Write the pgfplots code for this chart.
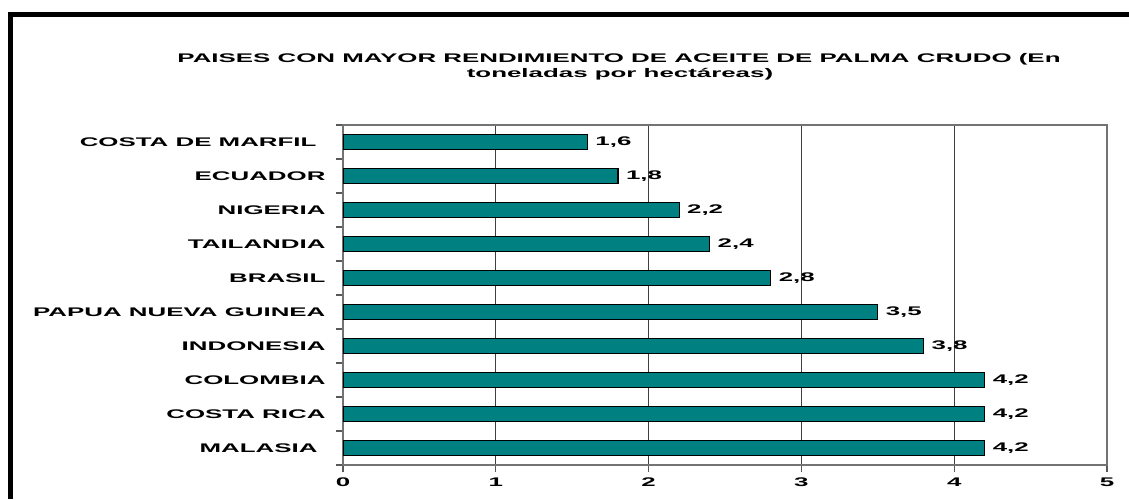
\documentclass[border=0pt]{standalone}
\usepackage{fontspec}
\setmainfont{Liberation Sans}[FakeStretch=2.07]
\usepackage{pgfplots}
\pgfplotsset{compat=1.18}
\definecolor{barteal}{HTML}{008080}
\newcommand{\lbl}{\fontsize{12.5}{15}\selectfont\bfseries}
\begin{document}
\begin{tikzpicture}
\useasboundingbox (0,0) rectangle (1129pt,499pt);
\fill[white] (0,0) rectangle (1129pt,499pt);
\draw[line width=5pt] (8pt,484.5pt) -- (1129pt,484.5pt);
\draw[line width=5pt] (10.5pt,487pt) -- (10.5pt,0pt);
\node[anchor=base, font=\lbl] at (619pt,436pt) {PAISES CON MAYOR RENDIMIENTO DE ACEITE DE PALMA CRUDO (En};
\node[anchor=base, font=\lbl] at (620pt,421pt) {toneladas por hectáreas)};
\begin{axis}[
 at={(343pt,34pt)}, anchor=south west,
 scale only axis, width=764pt, height=340pt,
 xbar, bar width=15.5pt,
 xmin=0, xmax=5, ymin=-0.5, ymax=9.5,
 xtick={0,...,5},
 ytick={-0.5,0.5,...,9.5},
 y tick label as interval,
 yticklabels={MALASIA\hspace*{8pt},COSTA RICA,COLOMBIA,INDONESIA,PAPUA NUEVA GUINEA,BRASIL,TAILANDIA,NIGERIA,ECUADOR,COSTA DE MARFIL\hspace*{9pt}},
 tick align=outside, major tick length=7pt,
 xtick pos=left, ytick pos=left,
 xmajorgrids, grid style={draw=black!75, line width=1.2pt},
 axis line style={draw=black!55, line width=1.3pt},
 tick style={draw=black!65, line width=1.2pt},
 ticklabel style={font=\lbl},
 yticklabel style={xshift=-7pt},
 xticklabel style={yshift=-2pt},
 /pgf/number format/assume math mode=true,
 point meta=x,
 nodes near coords={\pgfmathprintnumber[fixed,fixed zerofill,precision=1,use comma,assume math mode=true]{\pgfplotspointmeta}},
 nodes near coords style={anchor=west, font=\lbl, xshift=4pt},
]
\addplot[fill=barteal, draw=black, line width=1.3pt] coordinates {(4.2,0) (4.2,1) (4.2,2) (3.8,3) (3.5,4) (2.8,5) (2.4,6) (2.2,7) (1.8,8) (1.6,9)};
\end{axis}
\end{tikzpicture}
\end{document}
